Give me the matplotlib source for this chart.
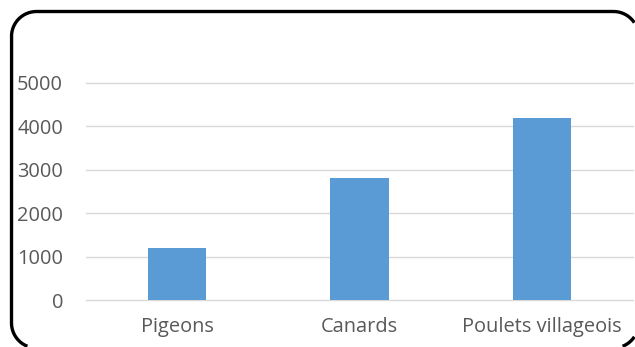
import numpy as np
import matplotlib.pyplot as plt
from matplotlib.lines import Line2D

# Données
categories = ['Pigeons', 'Canards', 'Poulets villageois']
effectifs = [1200, 2800, 4200]
yticks = [0, 1000, 2000, 3000, 4000, 5000]

plt.rcParams['font.family'] = ['Open Sans', 'DejaVu Sans']

W, H = 635, 347
fig = plt.figure(figsize=(W / 100, H / 100), dpi=100)
ax = fig.add_axes([86 / W, (H - 300) / H, (633 - 86) / W, (300 - 83) / H])

x = range(len(categories))
ax.bar(x, effectifs, width=0.32, color='#5B9BD5', zorder=3)

ax.set_xlim(-0.5, len(categories) - 0.5)
ax.set_ylim(0, 5000)
ax.set_yticks(yticks)
ax.set_xticks(list(x))
ax.set_xticklabels(categories)
ax.tick_params(axis='both', length=0, labelsize=14.4, labelcolor='#595959')
# pad en points (1 px = 0.72 pt à 100 dpi)
ax.tick_params(axis='y', pad=16.5)
ax.tick_params(axis='x', pad=12.5)
ax.grid(axis='y', color='#D9D9D9', linewidth=1.0, zorder=0)
for gl in ax.get_ygridlines():
    gl.set_clip_on(False)
for s in ax.spines.values():
    s.set_visible(False)

# Cadre arrondi (en pixels, origine en haut à gauche), coupé au bord de l'image
x0, x1, y0, y1, r = 11.5, 638.5, 11.5, 348, 25
pts = []
for cx, cy, a0 in [(x1 - r, y0 + r, -90), (x1 - r, y1 - r, 0),
                   (x0 + r, y1 - r, 90), (x0 + r, y0 + r, 180)]:
    t = np.radians(np.linspace(a0, a0 + 90, 60))
    pts.append(np.column_stack([cx + r * np.cos(t), cy + r * np.sin(t)]))
pts.append(pts[0][:1])
pts = np.vstack(pts)
# densifier les côtés droits
dense = [pts[0]]
for p, q in zip(pts[:-1], pts[1:]):
    n = max(2, int(np.hypot(*(q - p)) // 2))
    dense.extend(np.linspace(p, q, n)[1:])
dense = np.array(dense)
dehors = (dense[:, 0] > W - 0.5) | (dense[:, 1] > H - 0.5)
dense[dehors] = np.nan
fig.add_artist(Line2D(dense[:, 0] / 100, (H - dense[:, 1]) / 100,
                      transform=fig.dpi_scale_trans, color='black',
                      linewidth=2.4, solid_capstyle='butt'))

fig.savefig('out.png', dpi=100, facecolor='white')
